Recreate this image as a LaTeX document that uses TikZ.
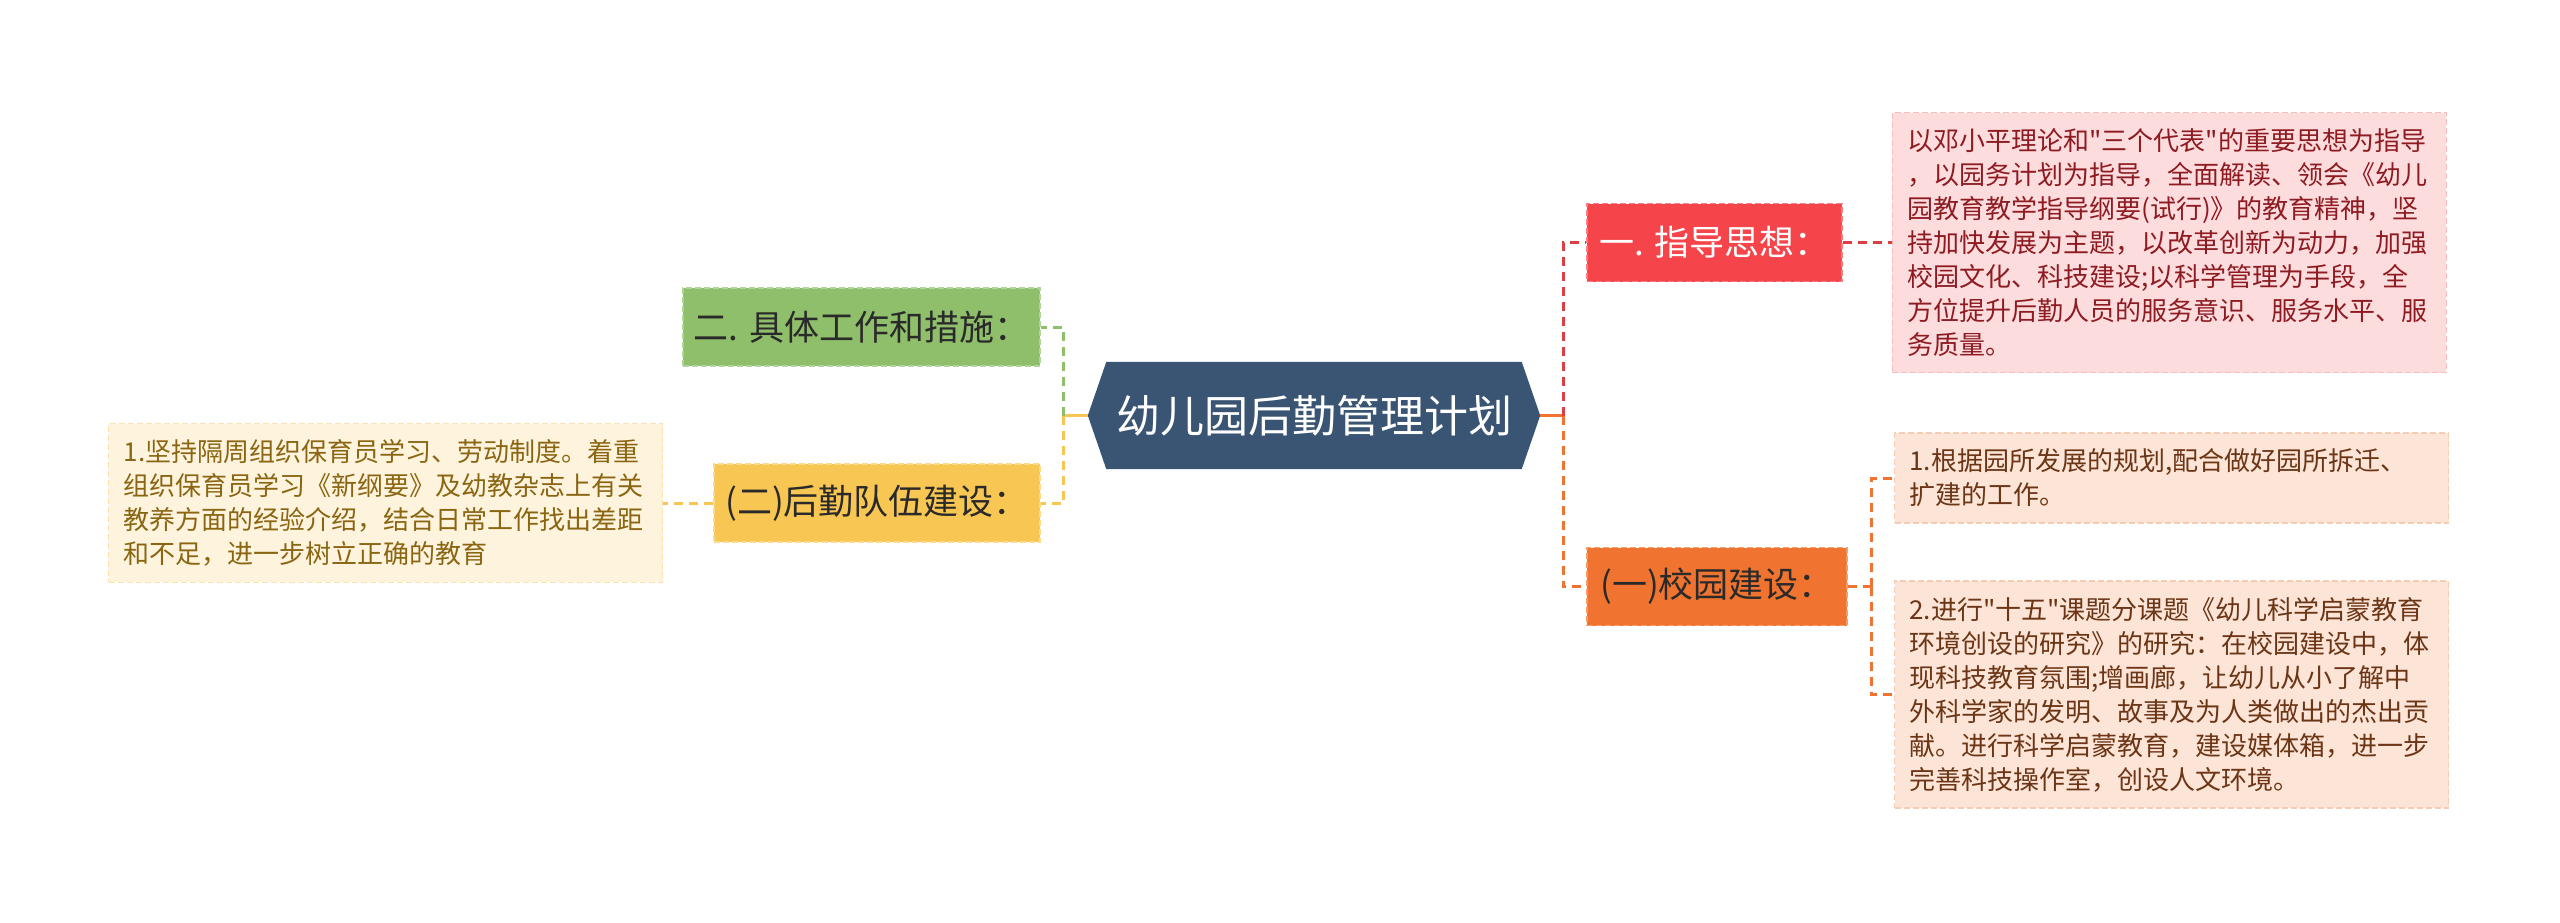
\documentclass[tikz,border=0pt]{standalone}
\usepackage{fontspec}
\usepackage{tikz}
\usetikzlibrary{positioning,backgrounds}
\newfontfamily\cjk{Noto Sans CJK SC}
\definecolor{rootfill}{HTML}{3A5573}
\definecolor{guidefill}{HTML}{F5454B}
\definecolor{guideline}{HTML}{F88084}
\definecolor{campusfill}{HTML}{F0742F}
\definecolor{campusline}{HTML}{F59D6B}
\definecolor{measurefill}{HTML}{8FBF6B}
\definecolor{measureline}{HTML}{B0D49B}
\definecolor{teamfill}{HTML}{F8C652}
\definecolor{teamline}{HTML}{FBDA8A}
\definecolor{pinkfill}{HTML}{FDDCDD}
\definecolor{pinkline}{HTML}{F6BDBF}
\definecolor{pinktext}{HTML}{8E1B22}
\definecolor{peachfill}{HTML}{FCE4D6}
\definecolor{peachline}{HTML}{F6CDB4}
\definecolor{peachtext}{HTML}{6B3516}
\definecolor{creamfill}{HTML}{FEF3DC}
\definecolor{creamline}{HTML}{FAE3B0}
\definecolor{creamtext}{HTML}{8A6512}
\definecolor{labeldark}{HTML}{2A2A2A}

\begin{document}
\begin{tikzpicture}[x=1pt, y=-1pt,
  every node/.style={font=\cjk},
  rootbox/.style={text=white, font={\cjk\fontsize{44}{52}\selectfont},
                  minimum width=415pt, minimum height=107pt, inner sep=0pt},
  topicbox/.style={fill=#1fill, draw=#1line, dash pattern=on 6pt off 3pt,
                   line width=1.5pt, minimum height=78pt, inner xsep=6pt,
                   font={\cjk\fontsize{35}{41}\selectfont}, text=labeldark},
  notebox/.style={fill=#1fill, draw=#1line, text=#1text, dash pattern=on 6pt off 3pt,
                  line width=1.2pt, align=left, text width=524pt,
                  inner xsep=15pt, inner ysep=16pt,
                  font={\cjk\fontsize{26}{34}\selectfont}},
  link/.style={line width=3pt, dash pattern=on 9pt off 6pt},
  stem/.style={line width=3.5pt}
]
\useasboundingbox (0,0) rectangle (2560,923);

% centre
\node[rootbox] (root) at (1314,415.5) {幼儿园后勤管理计划};
\begin{scope}[on background layer]
  \fill[rootfill] (root.north west) -- (root.north east) -- ([xshift=18.5pt]root.east)
    -- (root.south east) -- (root.south west) -- ([xshift=-18.5pt]root.west) -- cycle;
\end{scope}

% right branch
\node[topicbox=guide, text=white, minimum width=255pt] (guide) at (1714.5,242.5) {一. 指导思想：};
\node[notebox=pink, right=49pt of guide] (guidenote) {以邓小平理论和"三个代表"的重要思想为指导\\，以园务计划为指导，全面解读、领会《幼儿\\园教育教学指导纲要(试行)》的教育精神，坚\\持加快发展为主题，以改革创新为动力，加强\\校园文化、科技建设;以科学管理为手段，全\\方位提升后勤人员的服务意识、服务水平、服\\务质量。};
\node[topicbox=campus, minimum width=260pt] (campus) at (1717,586.5) {(一)校园建设：};
\node[notebox=peach] (campusone) at (2171.5,478) {1.根据园所发展的规划,配合做好园所拆迁、\\扩建的工作。};
\node[notebox=peach] (campustwo) at (2171.5,694.5) {2.进行"十五"课题分课题《幼儿科学启蒙教育\\环境创设的研究》的研究：在校园建设中，体\\现科技教育氛围;增画廊，让幼儿从小了解中\\外科学家的发明、故事及为人类做出的杰出贡\\献。进行科学启蒙教育，建设媒体箱，进一步\\完善科技操作室，创设人文环境。};

% left branch
\node[topicbox=measure, minimum width=357pt] (measure) at (861.5,327) {二. 具体工作和措施：};
\node[topicbox=team, minimum width=326pt] (team) at (877,503) {(二)后勤队伍建设：};
\node[notebox=cream, left=50pt of team] (teamnote) {1.坚持隔周组织保育员学习、劳动制度。着重\\组织保育员学习《新纲要》及幼教杂志上有关\\教养方面的经验介绍，结合日常工作找出差距\\和不足，进一步树立正确的教育};

\coordinate (rj) at (1563,415.5);
\coordinate (lj) at (1063,415.5);
\coordinate (cj) at (1871,586.5);

\draw[stem, campusfill] ([xshift=18.5pt]root.east) -- (rj);
\draw[link, guidefill!90!black] (rj) |- (guide.west);
\draw[link, campusfill] (rj) |- (campus.west);
\draw[link, guidefill!90!black] (guide.east) -- (guidenote.west);
\draw[link, campusfill] (campus.east) -- (cj);
\draw[link, campusfill] (cj) |- (campusone.west);
\draw[link, campusfill] (cj) |- (campustwo.west);

\draw[stem, teamfill] ([xshift=-18.5pt]root.west) -- (lj);
\draw[link, measurefill] (lj) |- (measure.east);
\draw[link, teamfill] (lj) |- (team.east);
\draw[link, teamfill] (team.west) -- (teamnote.east);
\end{tikzpicture}
\end{document}
